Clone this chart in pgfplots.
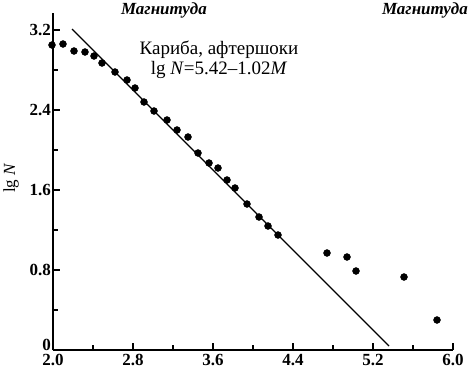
\documentclass[border=0pt]{standalone}
\usepackage{fontspec}
\setmainfont{Liberation Serif}
\usepackage{pgfplots}
\pgfplotsset{compat=1.18}
\begin{document}
\begin{tikzpicture}[x=1pt,y=1pt]
\path[use as bounding box] (-53pt,-23pt) rectangle (418pt,350pt);
\begin{axis}[
  at={(0,0)}, anchor=south west,
  scale only axis, width=400pt, height=337pt,
  xmin=2, xmax=6, ymin=0, ymax=3.37,
  axis lines=left, axis line style={line width=2pt,-},
  clip=false,
  xtick={2,2.8,3.6,4.4,5.2,6},
  xticklabels={2.0,2.8,3.6,4.4,5.2,6.0},
  minor xtick={2.4,3.2,4.0,4.8,5.6},
  ytick={0,0.8,1.6,2.4,3.2},
  yticklabels={\raisebox{0pt}[0pt][0pt]{0},0.8,1.6,2.4,3.2},
  minor ytick={0.4,1.2,2.0,2.8},
  tick align=inside,
  major tick length=7pt, minor tick length=5pt,
  tick style={line width=1.4pt,black},
  ticklabel style={font=\bfseries\fontsize{17}{19}\selectfont},
  xticklabel style={yshift=-3pt, inner sep=1pt},
  yticklabel style={xshift=-1pt, inner sep=1pt},
  /pgf/number format/assume math mode=true,
]
\addplot[black, line width=1.4pt] coordinates {(2.19,3.21) (5.36,0.04)};
\addplot[only marks, mark=*, mark size=3.5pt, black] coordinates {
(1.99,3.05) (2.10,3.06) (2.21,2.99) (2.32,2.98) (2.41,2.94) (2.49,2.87)
(2.62,2.78) (2.74,2.70) (2.82,2.62) (2.91,2.48) (3.01,2.39) (3.14,2.30)
(3.24,2.20) (3.35,2.13) (3.45,1.97) (3.56,1.87) (3.65,1.82) (3.74,1.70)
(3.82,1.62) (3.94,1.46) (4.06,1.33) (4.15,1.24) (4.25,1.15)
(4.74,0.97) (4.94,0.93) (5.03,0.79) (5.51,0.73) (5.84,0.30)
};
\node[font=\fontsize{19}{21}\selectfont] at (axis cs:3.66,3.00) {Кариба, афтершоки};
\node[font=\fontsize{19}{21}\selectfont] at (axis cs:3.66,2.80) {lg \textit{N}=5.42--1.02\textit{M}};
\node[font=\bfseries\itshape\fontsize{17}{19}\selectfont] at (axis cs:3.11,3.40) {Магнитуда};
\node[font=\bfseries\itshape\fontsize{17}{19}\selectfont] at (axis cs:5.72,3.40) {Магнитуда};
\node[rotate=90, font=\fontsize{17}{19}\selectfont] at (axis cs:1.58,1.72) {lg \textit{N}};
\end{axis}
\end{tikzpicture}
\end{document}
